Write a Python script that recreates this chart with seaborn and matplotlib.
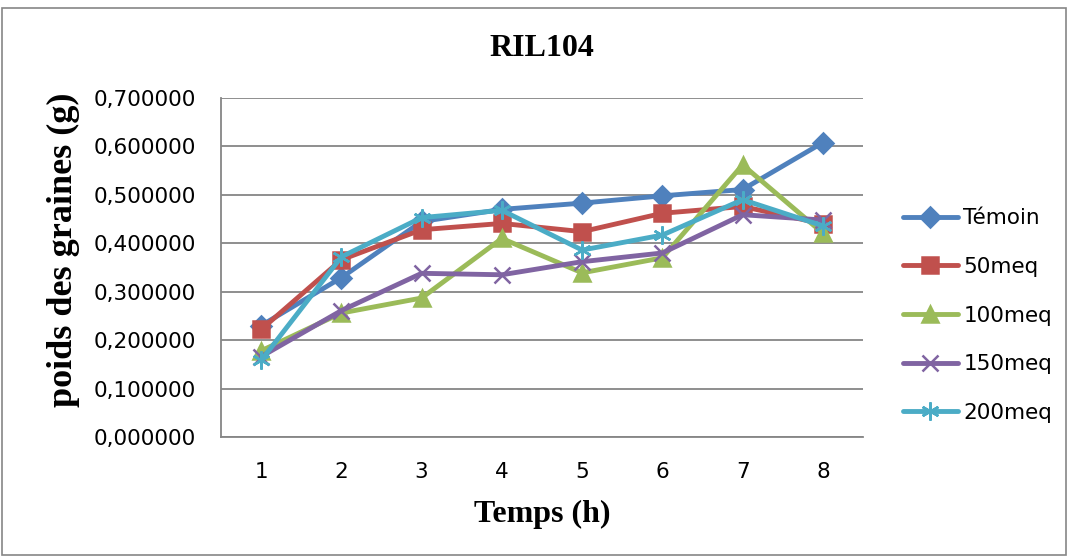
import matplotlib
matplotlib.use("Agg")
import matplotlib.pyplot as plt
import matplotlib.ticker as mticker
from matplotlib.lines import Line2D
from matplotlib.patches import Rectangle
import seaborn as sns
import pandas as pd

# ---- data ----
temps = [1, 2, 3, 4, 5, 6, 7, 8]
temoin = [0.230, 0.329, 0.445, 0.470, 0.483, 0.498, 0.511, 0.608]
meq50 = [0.222, 0.366, 0.428, 0.441, 0.424, 0.462, 0.476, 0.440]
meq100 = [0.178, 0.256, 0.287, 0.410, 0.339, 0.370, 0.562, 0.421]
meq150 = [0.166, 0.261, 0.338, 0.335, 0.362, 0.380, 0.459, 0.448]
meq200 = [0.158, 0.372, 0.453, 0.468, 0.386, 0.417, 0.490, 0.436]
series_names = ["Témoin", "50meq", "100meq", "150meq", "200meq"]
series_values = [temoin, meq50, meq100, meq150, meq200]
yticks = [0.0, 0.1, 0.2, 0.3, 0.4, 0.5, 0.6, 0.7]

colors = ["#4F81BD", "#C0504D", "#9BBB59", "#8064A2", "#4BACC6"]
markers = ["D", "s", "^", "x", (6, 2, 0)]
msizes = [10.5, 11, 12, 11, 13]

sns.set_theme(style="white")
plt.rcParams["font.family"] = ["DejaVu Sans"]
plt.rcParams["text.color"] = "black"

fig = plt.figure(figsize=(10.69, 5.59), dpi=100)
ax = fig.add_axes([221/1069, 1-437/559, (863-221)/1069, (437-98)/559])

for name, vals, c, m, ms in zip(series_names, series_values, colors, markers, msizes):
    d = pd.DataFrame({"Temps": temps, "poids": vals})
    sns.lineplot(data=d, x="Temps", y="poids", color=c, marker=m, markersize=ms,
                 markeredgecolor=c, markerfacecolor=c, markeredgewidth=1.8,
                 linewidth=3.5, ax=ax, label=name, legend=False)

for line in ax.lines:
    line.set_solid_capstyle("round")

grey = "#868686"
ax.set_xlim(0.5, 8.5)
ax.set_ylim(0, 0.7)
ax.set_yticks(yticks)
ax.yaxis.set_major_formatter(mticker.FuncFormatter(lambda v, p: f"{v:.6f}".replace(".", ",")))
ax.set_xticks(temps)
ax.set_xticks([t + 0.5 for t in [0] + temps], minor=True)
ax.tick_params(axis="x", which="major", length=0, labelsize=15.5, pad=18, labelcolor="black")
ax.tick_params(axis="x", which="minor", length=6, width=1.3, color=grey, direction="out")
ax.tick_params(axis="y", which="major", length=6, width=1.3, color=grey, labelsize=15.5,
               pad=12, direction="out", labelcolor="black")
ax.grid(axis="y", color=grey, linewidth=1.3)
ax.set_axisbelow(True)
for s in ["top", "right"]:
    ax.spines[s].set_visible(False)
for s in ["left", "bottom"]:
    ax.spines[s].set_color(grey)
    ax.spines[s].set_linewidth(1.3)

serif = ["Liberation Serif", "DejaVu Serif"]
ax.set_xlabel("Temps (h)", fontsize=23, fontweight="bold", family=serif, labelpad=13,
              color="black")
ax.set_ylabel("poids des graines (g)", fontsize=26, fontweight="bold", family=serif,
              color="black")
ax.yaxis.set_label_coords(-(221 - 80) / 642, (437 - 250) / 339)
fig.text(542/1069, 1-48/559, "RIL104", fontsize=23, fontweight="bold", family=serif,
         ha="center", va="center", color="black")

handles = [Line2D([], [], color=c, lw=3.5, marker=m, markersize=ms, mec=c, mfc=c, mew=1.8)
           for c, m, ms in zip(colors, markers, msizes)]
fig.legend(handles, series_names, loc="center left", bbox_to_anchor=(903/1069, 1-315.5/559),
           frameon=False, fontsize=15.5, handlelength=2.55, handletextpad=0.25,
           labelspacing=1.33, borderpad=0, borderaxespad=0, labelcolor="black")

fig.patches.append(Rectangle((2/1069, 1-555/559), 1064/1069, 547/559, transform=fig.transFigure,
                             fill=False, edgecolor=grey, linewidth=1.2))

fig.savefig("out.png", dpi=100)
